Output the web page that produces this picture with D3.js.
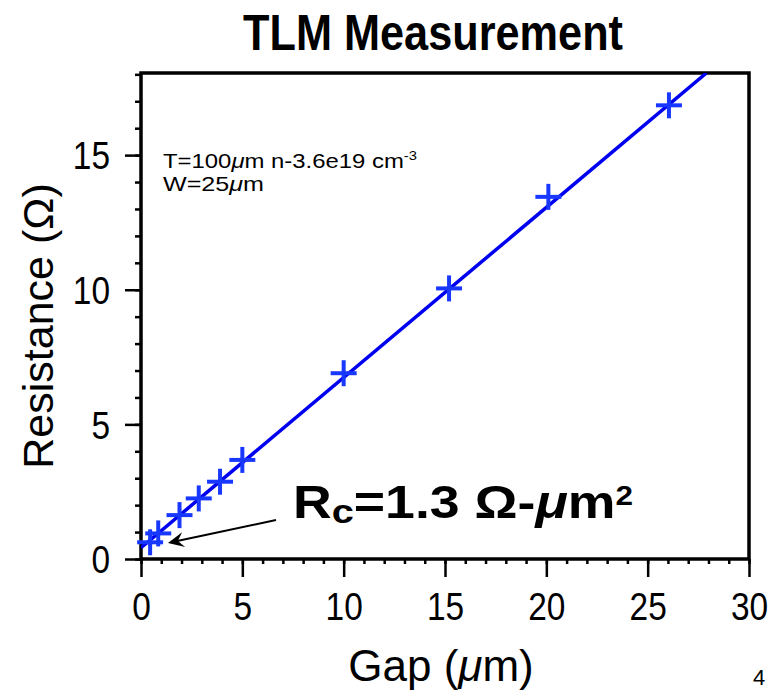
<!DOCTYPE html>
<html><head><meta charset="utf-8">
<script src="https://cdn.jsdelivr.net/npm/d3@7"></script>
<style>
body{margin:0;background:#fff;}
text{font-family:"Liberation Sans",Arial,Helvetica,sans-serif;}
</style></head>
<body><svg id="c" width="773" height="692"></svg>
<script>
const gapValues = [0.45, 0.85, 1.9, 2.85, 3.9, 5.0, 10.0, 15.2, 20.1, 26.05];
const resistanceValues = [0.62, 0.95, 1.63, 2.25, 2.87, 3.68, 6.9, 10.05, 13.45, 16.85];
const fitGap = [0, 27.9];
const fitResistance = [0.42, 18.05];
const xTicks = [0, 5, 10, 15, 20, 25, 30];
const yTicks = [0, 5, 10, 15];

const svg = d3.select("#c");
const m = {l:141, r:749, t:73, b:559};
const x = d3.scaleLinear().domain([0,30]).range([m.l, m.r]);
const y = d3.scaleLinear().domain([0,18.05]).range([m.b, m.t]);
const SX = 0.88, TF = 38;

// frame
svg.append("rect").attr("x",m.l).attr("y",m.t).attr("width",m.r-m.l).attr("height",m.b-m.t)
  .attr("fill","none").attr("stroke","#000").attr("stroke-width",3.5);

// axes
const xAxis = svg.append("g").attr("transform",`translate(0,${m.b})`);
xAxis.call(d3.axisBottom(x).tickValues(d3.range(0,31,1)).tickSize(5).tickFormat(""));
xAxis.select(".domain").remove();
const xMaj = svg.append("g").attr("transform",`translate(0,${m.b})`);
xMaj.call(d3.axisBottom(x).tickValues(xTicks).tickSize(18).tickPadding(16).tickFormat(d3.format("d")));
xMaj.select(".domain").remove();
xMaj.selectAll("text").attr("font-size",TF).attr("fill","#000").attr("font-family","Liberation Sans, Arial, sans-serif")
  .attr("transform",`scale(${SX},1)`);

const yAxis = svg.append("g").attr("transform",`translate(${m.l},0)`);
yAxis.call(d3.axisLeft(y).tickValues(d3.range(0,19,1)).tickSize(6).tickFormat(""));
yAxis.select(".domain").remove();
const yMaj = svg.append("g").attr("transform",`translate(${m.l},0)`);
yMaj.call(d3.axisLeft(y).tickValues(yTicks).tickSize(16).tickFormat(d3.format("d")));
yMaj.select(".domain").remove();
yMaj.selectAll("text").attr("font-size",TF).attr("fill","#000").attr("dy","0.36em")
  .attr("x",-31/SX).attr("transform",`scale(${SX},1)`).attr("font-family","Liberation Sans, Arial, sans-serif");
svg.selectAll(".tick line").attr("stroke","#000").attr("stroke-width",2.5);

// fit line
svg.append("defs").append("clipPath").attr("id","clip").append("rect")
  .attr("x",m.l).attr("y",m.t).attr("width",m.r-m.l).attr("height",m.b-m.t);
svg.append("line").attr("clip-path","url(#clip)")
  .attr("x1",x(fitGap[0])).attr("y1",y(fitResistance[0]))
  .attr("x2",x(fitGap[1])).attr("y2",y(fitResistance[1]))
  .attr("stroke","#0000f0").attr("stroke-width",3.5);

// crosses
const pts = gapValues.map((g,i)=>[g,resistanceValues[i]]);
const cs = 13;
const cg = svg.append("g").attr("stroke","#1838ff").attr("stroke-width",4);
pts.forEach(([g,r])=>{
  cg.append("line").attr("x1",x(g)-cs).attr("x2",x(g)+cs).attr("y1",y(r)).attr("y2",y(r));
  cg.append("line").attr("x1",x(g)).attr("x2",x(g)).attr("y1",y(r)-cs).attr("y2",y(r)+cs);
});

// title
svg.append("text").attr("x",433).attr("y",50).attr("text-anchor","middle")
  .attr("font-size",50).attr("font-weight","bold")
  .attr("textLength",380).attr("lengthAdjust","spacingAndGlyphs")
  .text("TLM Measurement");

// axis labels
svg.append("text").attr("x",441).attr("y",681).attr("text-anchor","middle").attr("font-size",44)
  .html('Gap (<tspan font-style="italic">μ</tspan>m)');
svg.append("text").attr("transform","translate(53,326) rotate(-90)").attr("text-anchor","middle").attr("font-size",43)
  .text('Resistance (Ω)');

// notes
svg.append("text").attr("x",163).attr("y",168).attr("font-size",21)
  .attr("textLength",254).attr("lengthAdjust","spacingAndGlyphs")
  .html('T=100<tspan font-style="italic">μ</tspan>m n-3.6e19 cm<tspan font-size="13" dy="-8">-3</tspan>');
svg.append("text").attr("x",163).attr("y",191).attr("font-size",21)
  .attr("textLength",101).attr("lengthAdjust","spacingAndGlyphs")
  .html('W=25<tspan font-style="italic">μ</tspan>m');

svg.append("text").attr("x",293).attr("y",518).attr("font-size",46).attr("font-weight","bold")
  .attr("textLength",340).attr("lengthAdjust","spacingAndGlyphs")
  .html('R<tspan font-size="34" dy="5">c</tspan><tspan dy="-5">=1.3 Ω-</tspan><tspan font-style="italic">μ</tspan>m<tspan font-size="27" dy="-13">2</tspan>');

// arrow
const a0 = [276,520], a1 = [168,543];
svg.append("line").attr("x1",a0[0]).attr("y1",a0[1]).attr("x2",a1[0]+8).attr("y2",a1[1]-1.7)
  .attr("stroke","#000").attr("stroke-width",2);
const ang = Math.atan2(a1[1]-a0[1], a1[0]-a0[0]);
svg.append("path").attr("transform",`translate(${a1[0]},${a1[1]}) rotate(${ang*180/Math.PI})`)
  .attr("d","M0,0 L-16,-7.5 L-10,0 L-16,7.5 Z").attr("fill","#000");

svg.append("text").attr("x",753).attr("y",685).attr("font-size",22).text("4");
</script></body></html>
